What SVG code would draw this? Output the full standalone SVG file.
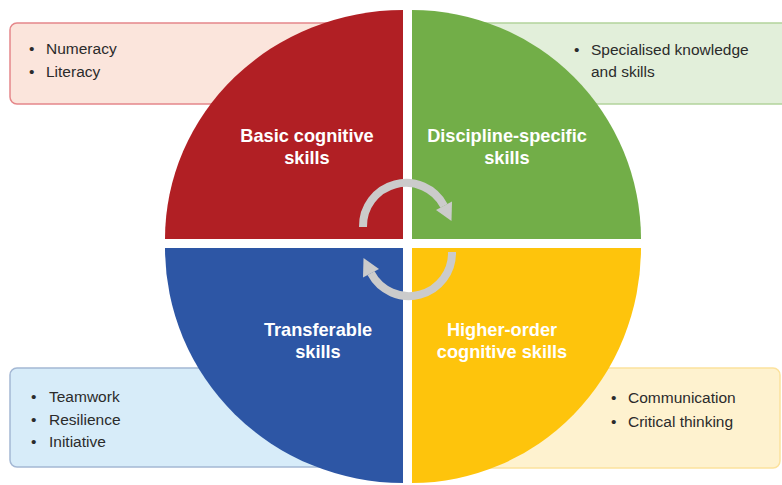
<svg xmlns="http://www.w3.org/2000/svg" width="782" height="485" viewBox="0 0 782 485">
  <style>
    .box { stroke-width: 1.5; }
    .item { font-family: "Liberation Sans", Arial, sans-serif; font-size: 15.5px; fill: #2b2b2b; }
    .label { font-family: "Liberation Sans", Arial, sans-serif; font-size: 18.2px; font-weight: bold; fill: #ffffff; text-anchor: middle; }
    .cycle { fill: none; stroke: #cbcbcb; stroke-width: 8; }
    .head { fill: #cbcbcb; }
  </style>
  <rect width="782" height="485" fill="#ffffff"/>

  <!-- Callout boxes sit behind the wheel -->
  <g id="box-basic">
    <rect class="box" x="10" y="23" width="380" height="81" rx="7" fill="#fbe5dc" stroke="#e5878a"/>
    <text class="item" x="29" y="54">•</text><text class="item" x="46" y="54">Numeracy</text>
    <text class="item" x="29" y="77">•</text><text class="item" x="46" y="77">Literacy</text>
  </g>
  <g id="box-discipline">
    <rect class="box" x="425" y="23" width="370" height="81" rx="7" fill="#e2efda" stroke="#b3d39c"/>
    <text class="item" x="574" y="55">•</text><text class="item" x="591" y="55">Specialised knowledge</text>
    <text class="item" x="591" y="77">and skills</text>
  </g>
  <g id="box-transferable">
    <rect class="box" x="10" y="368" width="380" height="99" rx="7" fill="#d7ecf9" stroke="#a4b8d4"/>
    <text class="item" x="31" y="402">•</text><text class="item" x="49" y="402">Teamwork</text>
    <text class="item" x="31" y="425">•</text><text class="item" x="49" y="425">Resilience</text>
    <text class="item" x="31" y="447">•</text><text class="item" x="49" y="447">Initiative</text>
  </g>
  <g id="box-higher">
    <rect class="box" x="425" y="368" width="355" height="100" rx="7" fill="#fef2cf" stroke="#fce29d"/>
    <text class="item" x="611" y="403">•</text><text class="item" x="628" y="403">Communication</text>
    <text class="item" x="611" y="427">•</text><text class="item" x="628" y="427">Critical thinking</text>
  </g>

  <!-- Wheel quadrants -->
  <g id="q-basic">
    <path d="M403,239 L165,239 A238,229 0 0 1 403,10 Z" fill="#b11f24"/>
    <text class="label" x="307" y="142">Basic cognitive</text>
    <text class="label" x="307" y="164">skills</text>
  </g>
  <g id="q-discipline">
    <path d="M412,239 L412,10 A229,229 0 0 1 641,239 Z" fill="#72ae48"/>
    <text class="label" x="507" y="142">Discipline-specific</text>
    <text class="label" x="507" y="164">skills</text>
  </g>
  <g id="q-transferable">
    <path d="M403,248 L403,483 A238,235 0 0 1 165,248 Z" fill="#2d56a5"/>
    <text class="label" x="318" y="336">Transferable</text>
    <text class="label" x="318" y="358">skills</text>
  </g>
  <g id="q-higher">
    <path d="M412,248 L641,248 A229,235 0 0 1 412,483 Z" fill="#fec40c"/>
    <text class="label" x="502" y="336">Higher-order</text>
    <text class="label" x="502" y="358">cognitive skills</text>
  </g>

  <!-- Cycle arrows in the centre -->
  <g id="connectors">
    <path class="cycle" d="M363,227 A43,43 0 0 1 444,205.8"/>
    <polygon class="head" points="452,201.6 451.5,221 436,210"/>
    <path class="cycle" d="M452,252 A43,43 0 0 1 371,273.2"/>
    <polygon class="head" points="363,277.4 363.5,258 379,269"/>
  </g>
</svg>
